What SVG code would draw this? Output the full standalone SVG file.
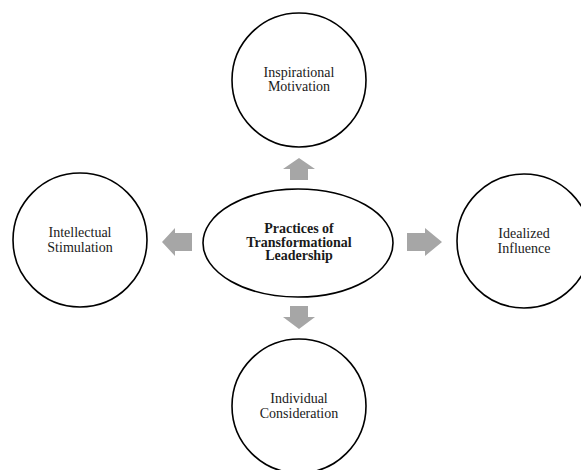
<svg xmlns="http://www.w3.org/2000/svg" width="581" height="470" viewBox="0 0 581 470">
<style>
.node{fill:#fff;stroke:#000;stroke-width:1.6}
.lbl{font-family:"Liberation Serif","Times New Roman",serif;font-size:14px;fill:#1a1a1a;text-anchor:middle}
.b{font-weight:bold}
.arr{fill:#a6a6a6}
</style>
<rect width="581" height="470" fill="#fff"/>
<g id="connectors">
<polygon class="arr" points="299,158 315,169 308,169 308,180 290,180 290,169 283,169"/>
<polygon class="arr" points="299,329 315,317 308,317 308,306 290,306 290,317 283,317"/>
<polygon class="arr" points="162,242 175,228 175,233 192,233 192,251 175,251 175,256"/>
<polygon class="arr" points="442,242 425,228 425,233 407,233 407,251 425,251 425,256"/>
</g>
<g id="center">
<ellipse class="node" cx="298" cy="243" rx="95" ry="54"/>
<text class="lbl b" x="299" y="233">Practices of</text>
<text class="lbl b" x="299" y="246.5">Transformational</text>
<text class="lbl b" x="299" y="260">Leadership</text>
</g>
<g id="inspirational">
<circle class="node" cx="299" cy="80" r="67"/>
<text class="lbl" x="299" y="77">Inspirational</text>
<text class="lbl" x="299" y="91">Motivation</text>
</g>
<g id="intellectual">
<circle class="node" cx="80" cy="240" r="67"/>
<text class="lbl" x="80" y="237">Intellectual</text>
<text class="lbl" x="80" y="252">Stimulation</text>
</g>
<g id="idealized">
<circle class="node" cx="524" cy="241" r="67"/>
<text class="lbl" x="524" y="238">Idealized</text>
<text class="lbl" x="524" y="253">Influence</text>
</g>
<g id="individual">
<circle class="node" cx="299" cy="406" r="67"/>
<text class="lbl" x="299" y="403">Individual</text>
<text class="lbl" x="299" y="418">Consideration</text>
</g>
</svg>
